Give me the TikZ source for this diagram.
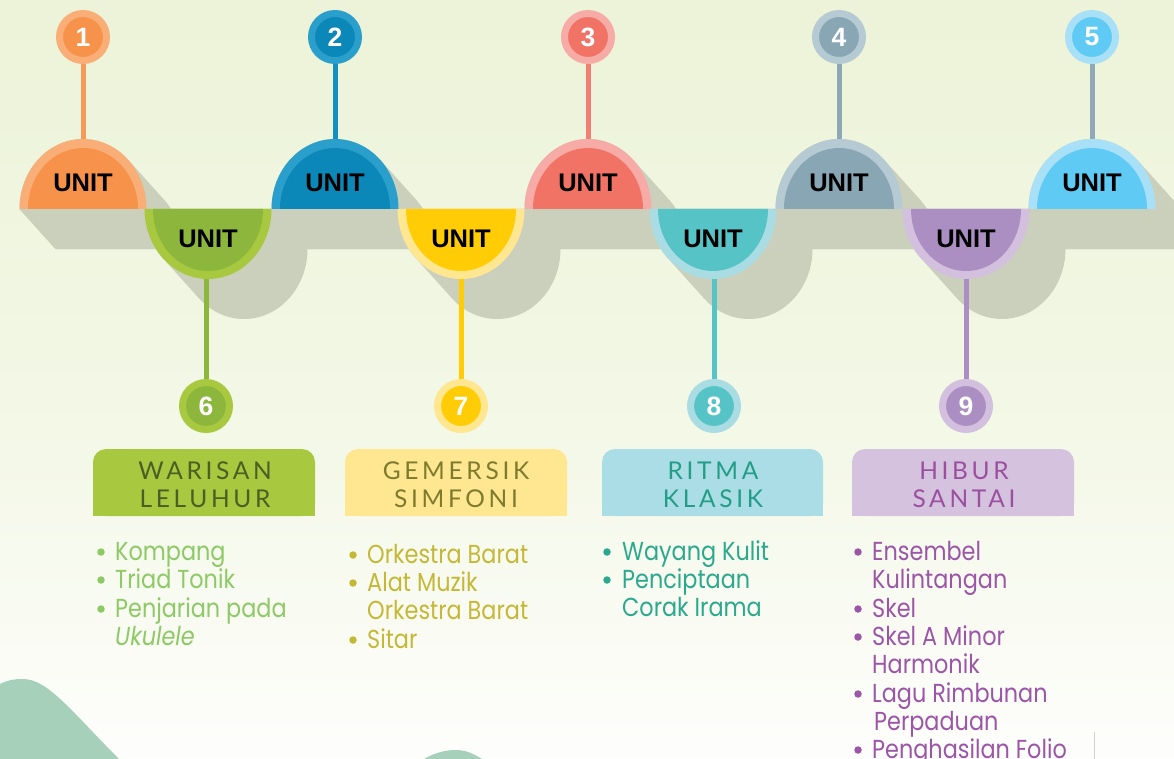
\documentclass[tikz,border=0pt]{standalone}
\usepackage{fontspec}
\setmainfont{Liberation Sans}
\newfontfamily\listfont[FakeStretch=0.86]{Poppins}
\newfontfamily\titlefont[LetterSpace=15]{Lato}
\pgfdeclarelayer{bg}
\pgfsetlayers{bg,main}
\definecolor{bgtop}{HTML}{E5EFCA}
\definecolor{bgmid}{HTML}{F4F8E8}
\definecolor{shadowc}{HTML}{CBD0BC}
\definecolor{hillc}{HTML}{A6D0BA}
% upper units
\definecolor{ci1}{HTML}{F7924A}\definecolor{co1}{HTML}{F9AE78}\definecolor{cs1}{HTML}{F69A5A}
\definecolor{ci2}{HTML}{0B87B8}\definecolor{co2}{HTML}{2A9FCB}\definecolor{cs2}{HTML}{1490C0}
\definecolor{ci3}{HTML}{F07366}\definecolor{co3}{HTML}{F6ABA6}\definecolor{cs3}{HTML}{F27F73}
\definecolor{ci4}{HTML}{88A6B4}\definecolor{co4}{HTML}{B6CAD3}\definecolor{cs4}{HTML}{8DA7B5}
\definecolor{ci5}{HTML}{5FCBF5}\definecolor{co5}{HTML}{A7E0F7}\definecolor{cs5}{HTML}{8FA9B6}
% lower units
\definecolor{ci6}{HTML}{8DB73C}\definecolor{co6}{HTML}{A7C83F}\definecolor{cs6}{HTML}{8DB73C}
\definecolor{ci7}{HTML}{FFCC05}\definecolor{co7}{HTML}{FFE690}\definecolor{cs7}{HTML}{FFCC05}
\definecolor{ci8}{HTML}{56C4C6}\definecolor{co8}{HTML}{A9DDE3}\definecolor{cs8}{HTML}{56C4C6}
\definecolor{ci9}{HTML}{AB8FC3}\definecolor{co9}{HTML}{D2C0DE}\definecolor{cs9}{HTML}{AB8FC3}
% titles and lists
\definecolor{box6}{HTML}{A8C840}\definecolor{tt6}{HTML}{4B5E24}\definecolor{lt6}{HTML}{8DC965}
\definecolor{box7}{HTML}{FFE792}\definecolor{tt7}{HTML}{7E7B2C}\definecolor{lt7}{HTML}{C5B836}
\definecolor{box8}{HTML}{AADDE5}\definecolor{tt8}{HTML}{239D88}\definecolor{lt8}{HTML}{2BA98E}
\definecolor{box9}{HTML}{D4C2DF}\definecolor{tt9}{HTML}{9B4F9F}\definecolor{lt9}{HTML}{9C56A8}
\pgfdeclareverticalshading{bgshade}{100bp}{color(0bp)=(white); color(22bp)=(white); color(45bp)=(bgmid); color(100bp)=(bgtop)}
\begin{document}
\begin{tikzpicture}[x=1pt,y=-1pt,
  numc/.style={circle,minimum size=47pt,inner sep=0pt,line width=7pt,text=white,
    font=\fontsize{26.5}{26.5}\selectfont\bfseries},
  unitlbl/.style={inner sep=0pt,font=\fontsize{25.5}{25.5}\selectfont\bfseries,text=black},
  stem/.style={line width=5pt},
  ttl/.style={anchor=base,inner sep=0pt,font=\titlefont\fontsize{24.5}{28}\selectfont},
  li/.style={anchor=base west,inner sep=0pt,font=\listfont\fontsize{26}{28}\selectfont},
  blt/.style={circle,inner sep=0pt,minimum size=7.5pt}
]
\useasboundingbox (0,0) rectangle (1174,759);
\begin{pgfonlayer}{bg}
  \shade[shading=bgshade] (0,0) rectangle (1174,759);
  % hills
  \fill[hillc] (0,759) -- (0,684) .. controls (8,680) and (14,679) .. (23,679)
     .. controls (48,679) and (72,712) .. (119,759) -- cycle;
  \fill[hillc] (424,759) .. controls (436,752) and (447,750) .. (456,750)
     .. controls (466,750) and (474,754) .. (482,759) -- cycle;
  \draw[line width=0.8pt,draw=black!18] (1094,732) -- (1094,759);
  % band shadow
  \fill[shadowc] (19.5,209) -- (1180,209) -- (1180,249) -- (55.5,249) -- cycle;
  % upper dome shadows
  \foreach \x in {83,335,588,839,1092}{
    \fill[shadowc] (\x-63.5,209) arc[start angle=180,end angle=315,x radius=63.5,y radius=70]
      -- ++(36,40) arc[start angle=315,end angle=360,x radius=63.5,y radius=70]
      -- ++(-127,0) -- cycle;
  }
  % lower dome shadows
  \foreach \x in {208,461,713,966}{
    \fill[shadowc] (\x-63.5,209) arc[start angle=180,end angle=135,x radius=63.5,y radius=70]
      -- ++(36,40) arc[start angle=135,end angle=0,x radius=63.5,y radius=70]
      -- ++(-36,-40) -- cycle;
  }
\end{pgfonlayer}
% upper units
\foreach \n/\x in {1/83,2/335,3/588,4/839,5/1092}{
  \fill[co\n] (\x-63.5,209) arc[start angle=180,end angle=360,x radius=63.5,y radius=70] -- cycle;
  \fill[ci\n] (\x-55,209) arc[start angle=180,end angle=360,x radius=55,y radius=61] -- cycle;
  \node[unitlbl] (u\n) at (\x,183) {UNIT};
  \node[numc,fill=ci\n,draw=co\n] (n\n) at (\x,37) {\n};
  \coordinate (d\n) at (\x,145);
  \begin{pgfonlayer}{bg}
    \draw[stem,cs\n] (n\n) -- (d\n);
  \end{pgfonlayer}
}
% lower units
\foreach \n/\x/\cx in {6/208/206,7/461/461,8/713/714,9/966/966}{
  \fill[co\n] (\x-63.5,209) arc[start angle=180,end angle=0,x radius=63.5,y radius=70] -- cycle;
  \fill[ci\n] (\x-55,209) arc[start angle=180,end angle=0,x radius=55,y radius=62] -- cycle;
  \node[unitlbl] (u\n) at (\x,239) {UNIT};
  \node[numc,fill=ci\n,draw=co\n] (n\n) at (\cx,406) {\n};
  \coordinate (d\n) at (\cx,273);
  \begin{pgfonlayer}{bg}
    \draw[stem,cs\n] (d\n) -- (n\n);
  \end{pgfonlayer}
}
% title boxes
\foreach \n/\xa/\xb in {6/93/315,7/345/567,8/602/823,9/852/1074}{
  \fill[box\n,rounded corners=13pt] (\xa,449) rectangle (\xb,516);
  \fill[box\n] (\xa,490) rectangle (\xb,516);
}
\node[ttl,text=tt6] (t6a) at (205,479) {WARISAN};
\node[ttl,text=tt6] (t6b) at (205,507) {LELUHUR};
\node[ttl,text=tt7] (t7a) at (456,479) {GEMERSIK};
\node[ttl,text=tt7] (t7b) at (456,507) {SIMFONI};
\node[ttl,text=tt8] (t8a) at (713,479) {RITMA};
\node[ttl,text=tt8] (t8b) at (713,507) {KLASIK};
\node[ttl,text=tt9] (t9a) at (964,479) {HIBUR};
\node[ttl,text=tt9] (t9b) at (964,507) {SANTAI};
% list 6
\node[li,text=lt6] (l6a) at (115,560) {Kompang};
\node[li,text=lt6] (l6b) at (115,588) {Triad Tonik};
\node[li,text=lt6] (l6c) at (115,617) {Penjarian pada};
\node[li,text=lt6] (l6d) at (115,645) {\itshape Ukulele};
\foreach \y in {560,588,617}{\node[blt,fill=lt6] at (101,\y-8) {};}
% list 7
\node[li,text=lt7] (l7a) at (367,563) {Orkestra Barat};
\node[li,text=lt7] (l7b) at (367,591) {Alat Muzik};
\node[li,text=lt7] (l7c) at (367,619) {Orkestra Barat};
\node[li,text=lt7] (l7d) at (367,648) {Sitar};
\foreach \y in {563,591,648}{\node[blt,fill=lt7] at (353,\y-8) {};}
% list 8
\node[li,text=lt8] (l8a) at (622,560) {Wayang Kulit};
\node[li,text=lt8] (l8b) at (622,588) {Penciptaan};
\node[li,text=lt8] (l8c) at (622,616) {Corak Irama};
\foreach \y in {560,588}{\node[blt,fill=lt8] at (607,\y-8) {};}
% list 9
\node[li,text=lt9] (l9a) at (872,560) {Ensembel};
\node[li,text=lt9] (l9b) at (872,588) {Kulintangan};
\node[li,text=lt9] (l9c) at (872,617) {Skel};
\node[li,text=lt9] (l9d) at (872,645) {Skel A Minor};
\node[li,text=lt9] (l9e) at (872,673) {Harmonik};
\node[li,text=lt9] (l9f) at (872,702) {Lagu Rimbunan};
\node[li,text=lt9] (l9g) at (874,730) {Perpaduan};
\node[li,text=lt9] (l9h) at (872,758) {Penghasilan Folio};
\foreach \y in {560,617,645,702,758}{\node[blt,fill=lt9] at (858,\y-8) {};}
\end{tikzpicture}
\end{document}
